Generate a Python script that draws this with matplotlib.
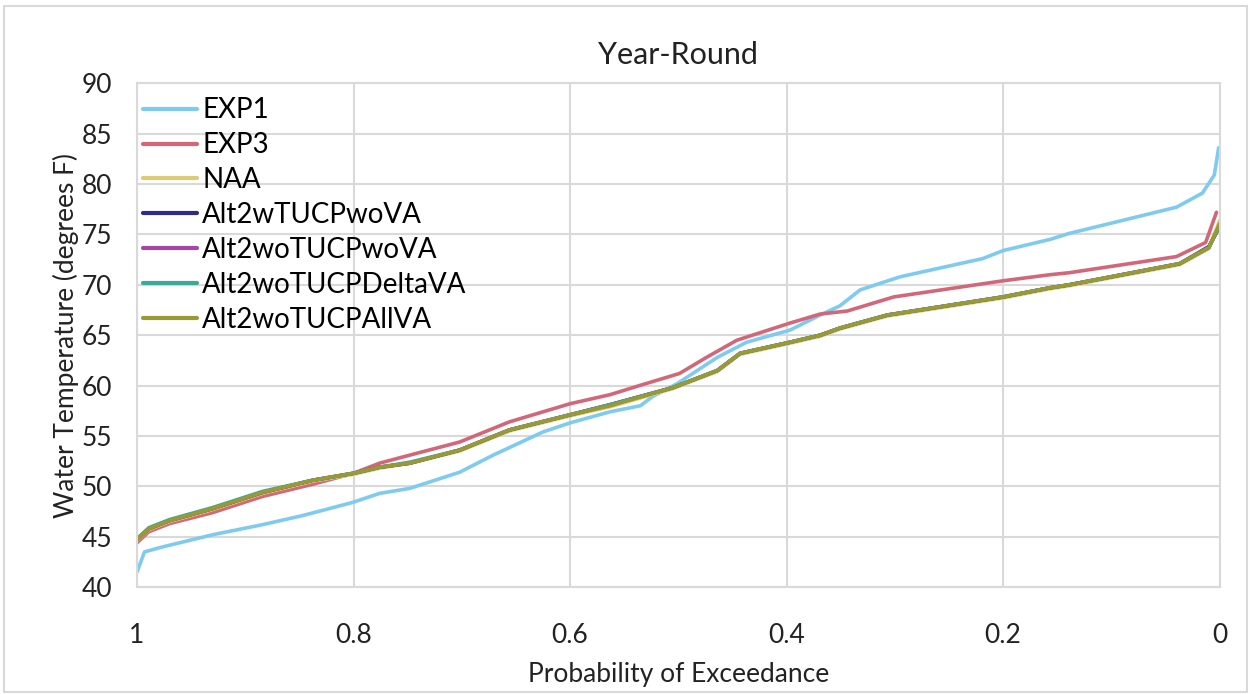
import matplotlib.pyplot as plt
from matplotlib.patches import Rectangle

plt.rcParams['font.family'] = ['Lato', 'DejaVu Sans']

# probability of exceedance / water temperature
exp1_p = [1.0, 0.993, 0.976, 0.93, 0.884, 0.847, 0.801, 0.776, 0.748, 0.702,
          0.671, 0.625, 0.60, 0.563, 0.535, 0.524, 0.501, 0.464, 0.437, 0.397,
          0.369, 0.351, 0.332, 0.295, 0.219, 0.20, 0.157, 0.139, 0.04, 0.016,
          0.005, 0.001]
exp1_t = [41.5, 43.5, 44.0, 45.2, 46.2, 47.1, 48.4, 49.3, 49.8, 51.4,
          53.1, 55.4, 56.3, 57.4, 58.0, 58.9, 60.2, 62.8, 64.3, 65.5,
          67.0, 67.9, 69.5, 70.8, 72.6, 73.4, 74.5, 75.1, 77.7, 79.1,
          80.9, 83.6]

exp3_p = [1.0, 0.989, 0.97, 0.93, 0.884, 0.838, 0.80, 0.776, 0.748, 0.702,
          0.656, 0.60, 0.563, 0.536, 0.499, 0.474, 0.446, 0.397, 0.369,
          0.344, 0.301, 0.20, 0.157, 0.139, 0.04, 0.013, 0.003]
exp3_t = [44.4, 45.5, 46.3, 47.4, 49.0, 50.2, 51.3, 52.3, 53.1, 54.4,
          56.4, 58.2, 59.1, 60.0, 61.2, 62.8, 64.5, 66.2, 67.1,
          67.4, 68.8, 70.4, 71.0, 71.2, 72.8, 74.2, 77.2]

alt_p = [1.0, 0.989, 0.97, 0.93, 0.884, 0.838, 0.80, 0.776, 0.748, 0.702,
         0.656, 0.60, 0.563, 0.505, 0.464, 0.443, 0.397, 0.369, 0.351,
         0.307, 0.20, 0.157, 0.139, 0.037, 0.01, 0.0]
naa_t = [44.6, 45.7, 46.5, 47.7, 49.3, 50.5, 51.2, 51.8, 52.3, 53.5,
         55.5, 57.0, 57.9, 59.7, 61.4, 63.1, 64.2, 64.9, 65.6,
         66.9, 68.7, 69.6, 69.9, 72.0, 73.6, 76.4]
alt2w_wo_t = [44.7, 45.8, 46.6, 47.8, 49.4, 50.6, 51.3, 51.9, 52.3, 53.6,
              55.6, 57.1, 58.1, 59.8, 61.5, 63.2, 64.3, 65.0, 65.7,
              67.0, 68.8, 69.7, 70.0, 72.1, 73.8, 75.8]
alt2wo_wo_t = [44.7, 45.8, 46.6, 47.8, 49.4, 50.6, 51.3, 51.9, 52.3, 53.6,
               55.6, 57.1, 58.1, 59.8, 61.5, 63.2, 64.3, 65.0, 65.7,
               67.0, 68.8, 69.7, 70.0, 72.1, 73.7, 75.9]
alt2wo_delta_t = [44.8, 45.9, 46.7, 47.9, 49.5, 50.6, 51.3, 51.9, 52.4, 53.6,
                  55.6, 57.1, 58.1, 59.8, 61.5, 63.2, 64.3, 65.0, 65.7,
                  67.0, 68.8, 69.7, 70.0, 72.1, 73.7, 75.9]
alt2wo_all_t = [44.7, 45.8, 46.6, 47.8, 49.4, 50.6, 51.3, 51.9, 52.3, 53.6,
                55.6, 57.1, 58.0, 59.8, 61.5, 63.2, 64.3, 65.0, 65.7,
                67.0, 68.8, 69.7, 70.0, 72.1, 73.7, 76.1]

series = [
    ('EXP1', exp1_p, exp1_t, '#7FCBEF'),
    ('EXP3', exp3_p, exp3_t, '#D3677A'),
    ('NAA', alt_p, naa_t, '#DCCB74'),
    ('Alt2wTUCPwoVA', alt_p, alt2w_wo_t, '#2E2A86'),
    ('Alt2woTUCPwoVA', alt_p, alt2wo_wo_t, '#A845A8'),
    ('Alt2woTUCPDeltaVA', alt_p, alt2wo_delta_t, '#3BAA96'),
    ('Alt2woTUCPAllVA', alt_p, alt2wo_all_t, '#9A9A35'),
]

fig = plt.figure(figsize=(12.51, 6.94), dpi=100)
ax = fig.add_axes([0.1095, 0.154, 0.8655, 0.726])

for name, p, t, c in series:
    ax.plot(p, t, color=c, lw=2.6, label=name, solid_capstyle='round')

ax.set_xlim(1, 0)
ax.set_ylim(40, 90)
ax.set_xticks([1, 0.8, 0.6, 0.4, 0.2, 0])
ax.set_xticklabels(['1', '0.8', '0.6', '0.4', '0.2', '0'])
ax.set_yticks(range(40, 91, 5))
ax.grid(True, color='#D9D9D9', lw=1.5)
ax.set_axisbelow(True)
for s in ax.spines.values():
    s.set_color('#D9D9D9')
    s.set_linewidth(1.5)
ax.tick_params(length=0, labelsize=19, colors='#222222')
ax.tick_params(axis='x', pad=26)
ax.tick_params(axis='y', pad=18)

ax.set_title('Year-Round', fontsize=22, color='#222222', pad=14)
ax.set_xlabel('Probability of Exceedance', fontsize=19, color='#222222', labelpad=10)
ax.set_ylabel('Water Temperature (degrees F)', fontsize=19, color='#222222', labelpad=2)

leg = ax.legend(loc='upper left', bbox_to_anchor=(0.0, 0.983), frameon=False,
                fontsize=20, handlelength=1.95, handletextpad=0.2,
                labelspacing=0.32, borderaxespad=0.1, borderpad=0.1)
for line in leg.get_lines():
    line.set_linewidth(3)

fig.patches.append(Rectangle((0.003, 0.003), 0.994, 0.988, transform=fig.transFigure,
                             fill=False, edgecolor='#D9D9D9', lw=1.5))

fig.savefig('out.png', dpi=100)
